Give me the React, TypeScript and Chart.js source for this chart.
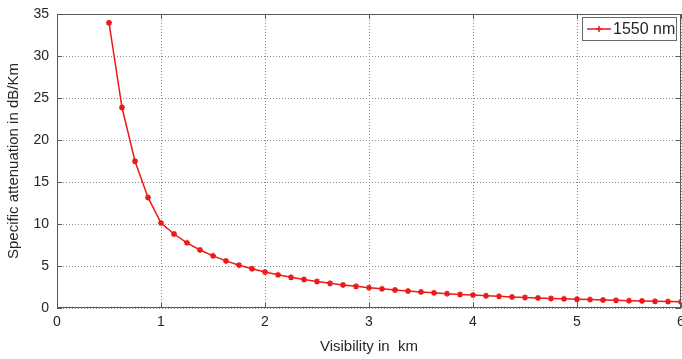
import React, { useEffect, useRef } from "react";
import { Chart, registerables } from "chart.js";

Chart.register(...registerables);

// Visibility (km) sampled every 1/8 km
const visibilityKm = [
  0.5, 0.625, 0.75, 0.875, 1, 1.125, 1.25, 1.375, 1.5, 1.625, 1.75, 1.875, 2,
  2.125, 2.25, 2.375, 2.5, 2.625, 2.75, 2.875, 3, 3.125, 3.25, 3.375, 3.5,
  3.625, 3.75, 3.875, 4, 4.125, 4.25, 4.375, 4.5, 4.625, 4.75, 4.875, 5,
  5.125, 5.25, 5.375, 5.5, 5.625, 5.75, 5.875, 6,
];

// Specific attenuation at 1550 nm (dB/km)
const attenuation1550 = [
  33.96, 23.87, 17.47, 13.16, 10.11, 8.81, 7.76, 6.91, 6.21, 5.61, 5.1, 4.67,
  4.28, 3.95, 3.65, 3.39, 3.16, 2.94, 2.75, 2.58, 2.42, 2.28, 2.14, 2.02, 1.91,
  1.81, 1.71, 1.62, 1.54, 1.46, 1.39, 1.32, 1.26, 1.2, 1.14, 1.09, 1.04, 1.0,
  0.95, 0.91, 0.87, 0.84, 0.8, 0.77, 0.74,
];

const xTicks = [0, 1, 2, 3, 4, 5, 6];
const yTicks = [0, 5, 10, 15, 20, 25, 30, 35];
const seriesLabel = "1550 nm";
const xTitle = "Visibility in  km";
const yTitle = "Specific attenuation in dB/Km";

const FONT = "'Liberation Sans', Arial, sans-serif";
const RED = "rgb(238, 24, 24)";
const TEXT = "#262626";

// Box frame with inward ticks plus an inset legend
const framePlugin = {
  id: "frameAndLegend",
  afterDraw(chart: any) {
    const { ctx, chartArea: a, scales } = chart;
    ctx.save();
    ctx.strokeStyle = "#5a5a5a";
    ctx.lineWidth = 1;
    ctx.strokeRect(a.left + 0.5, a.top + 0.5, a.right - a.left - 1, a.bottom - a.top - 1);
    ctx.beginPath();
    const tl = 5;
    xTicks.forEach((v) => {
      const x = Math.round(scales.x.getPixelForValue(v)) + 0.5;
      ctx.moveTo(x, a.bottom);
      ctx.lineTo(x, a.bottom - tl);
      ctx.moveTo(x, a.top);
      ctx.lineTo(x, a.top + tl);
    });
    yTicks.forEach((v) => {
      const y = Math.round(scales.y.getPixelForValue(v)) + 0.5;
      ctx.moveTo(a.left, y);
      ctx.lineTo(a.left + tl, y);
      ctx.moveTo(a.right, y);
      ctx.lineTo(a.right - tl, y);
    });
    ctx.stroke();

    // legend
    const bw = 95;
    const bh = 24;
    const bx = Math.round(a.right) - bw - 4;
    const by = a.top + 3;
    ctx.fillStyle = "#ffffff";
    ctx.fillRect(bx, by, bw, bh);
    ctx.strokeStyle = "#6a6a6a";
    ctx.strokeRect(bx + 0.5, by + 0.5, bw - 1, bh - 1);
    const my = by + bh / 2;
    const mx = bx + 17;
    ctx.strokeStyle = RED;
    ctx.lineWidth = 1.5;
    ctx.beginPath();
    ctx.moveTo(bx + 5, my);
    ctx.lineTo(bx + 29, my);
    ctx.stroke();
    ctx.beginPath();
    ctx.moveTo(mx - 3, my);
    ctx.lineTo(mx + 3, my);
    ctx.moveTo(mx, my - 3);
    ctx.lineTo(mx, my + 3);
    ctx.stroke();
    ctx.fillStyle = TEXT;
    ctx.font = `16px ${FONT}`;
    ctx.textBaseline = "middle";
    ctx.textAlign = "left";
    ctx.fillText(chart.data.datasets[0].label, bx + 31, my + 1);
    ctx.restore();
  },
};

export default function App() {
  const canvasRef = useRef<HTMLCanvasElement | null>(null);

  useEffect(() => {
    document.body.style.margin = "0";
    const canvas = canvasRef.current;
    if (!canvas) return;
    const points = visibilityKm.map((x, i) => ({ x, y: attenuation1550[i] }));
    const chart = new Chart(canvas, {
      type: "scatter",
      data: {
        datasets: [
          {
            label: seriesLabel,
            data: points,
            showLine: true,
            borderColor: RED,
            backgroundColor: RED,
            borderWidth: 1.5,
            pointStyle: "star",
            pointRadius: 3,
            pointHoverRadius: 3,
            pointBorderWidth: 1.5,
            pointBorderColor: RED,
            tension: 0,
          },
        ],
      },
      options: {
        responsive: false,
        animation: false,
        events: [],
        // the canvas is a little wider than its clipping box, so the last
        // x tick label runs off the right edge
        layout: { padding: { top: 14, right: 9, left: 0, bottom: 0 } },
        plugins: { legend: { display: false }, tooltip: { enabled: false } },
        scales: {
          x: {
            type: "linear",
            min: 0,
            max: 6,
            afterBuildTicks: (s: any) => {
              s.ticks = xTicks.map((v) => ({ value: v }));
            },
            afterFit: (s: any) => {
              s.height = 51;
              s.paddingLeft = 0;
              s.paddingRight = 0;
            },
            grid: { color: "#8a8a8a", lineWidth: 1, drawTicks: false },
            border: { display: false, dash: [1, 2] },
            ticks: {
              color: TEXT,
              font: { family: FONT, size: 14 },
              padding: 6,
              maxRotation: 0,
              autoSkip: false,
            },
            title: {
              display: true,
              text: xTitle,
              color: TEXT,
              font: { family: FONT, size: 15 },
              padding: { top: 0, bottom: 3 },
            },
          },
          y: {
            type: "linear",
            min: 0,
            max: 35,
            afterBuildTicks: (s: any) => {
              s.ticks = yTicks.map((v) => ({ value: v }));
            },
            afterFit: (s: any) => {
              s.width = 57;
              s.paddingTop = 0;
              s.paddingBottom = 0;
            },
            grid: { color: "#8a8a8a", lineWidth: 1, drawTicks: false },
            border: { display: false, dash: [1, 2] },
            ticks: {
              color: TEXT,
              font: { family: FONT, size: 14 },
              padding: 8,
              autoSkip: false,
            },
            title: {
              display: true,
              text: yTitle,
              color: TEXT,
              font: { family: FONT, size: 15 },
              padding: { top: 5, bottom: 0 },
            },
          },
        },
      },
      plugins: [framePlugin],
    });
    return () => chart.destroy();
  }, []);

  return (
    <div style={{ position: "fixed", left: 0, top: 0, width: 682, height: 359, overflow: "hidden", background: "#fff" }}>
      <canvas ref={canvasRef} width={690} height={359} style={{ display: "block" }} />
    </div>
  );
}
